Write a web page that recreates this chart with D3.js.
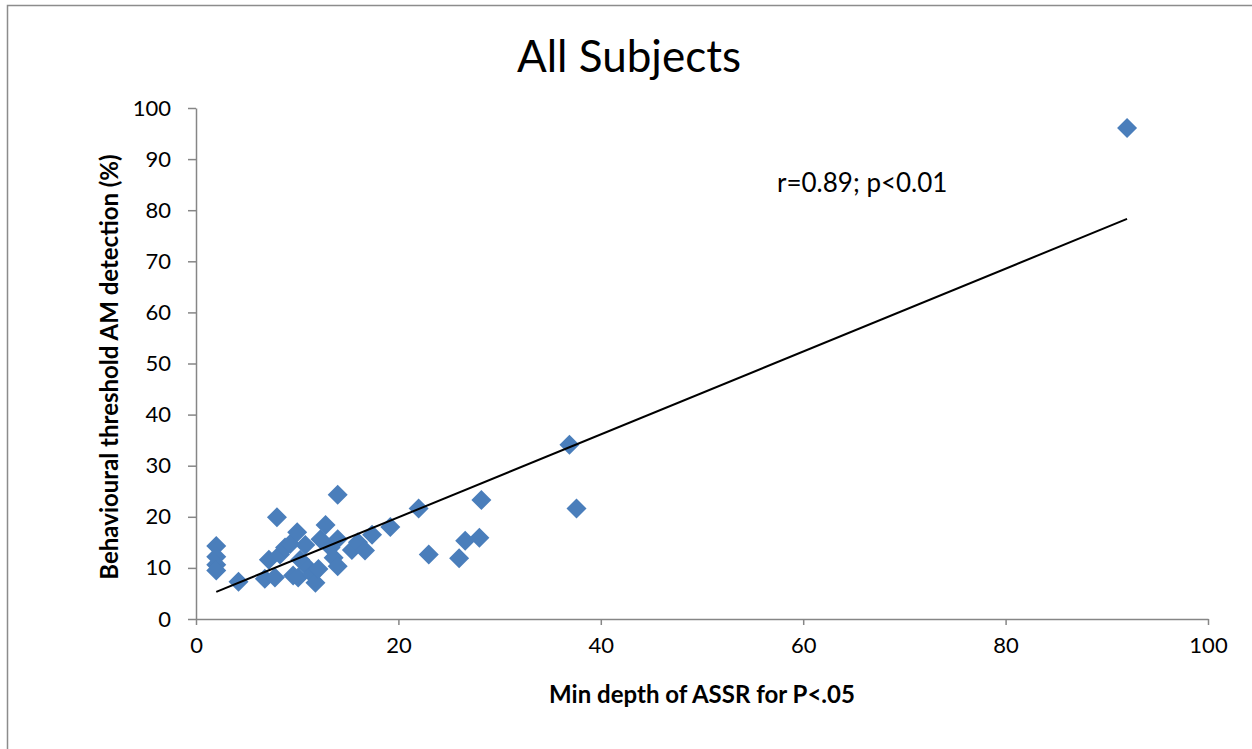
<!DOCTYPE html>
<html>
<head>
<meta charset="utf-8">
<script src="https://cdn.jsdelivr.net/npm/d3@7"></script>
<style>
  body { margin: 0; background: #fff; }
  svg text { font-family: Lato, "Open Sans", sans-serif; fill: #000; }
</style>
</head>
<body>
<svg id="canvas"></svg>
<script>
/***********************************************************************/
// Data

var xValues = [2, 2, 2, 2, 4.2, 8, 6.8, 7.2, 7.8, 8.3, 8.8, 9.3, 10, 9.6, 10.1, 10.3, 10.8, 11.1, 11.5, 11.8,
               12.1, 12.3, 12.8, 13.3, 13.6, 14, 14, 14, 15.4, 16, 16.7, 17.4, 19.2, 22, 23, 26, 26.6, 28, 28.2,
               36.9, 37.6, 92];
var yValues = [14.3, 12.2, 10.6, 9.5, 7.3, 19.9, 7.9, 11.6, 8.1, 12.6, 14, 14.7, 17, 8.5, 8.1, 11.6, 14.5, 10, 8.7, 7.1,
               9.8, 15.6, 18.4, 14, 12, 24.3, 15.6, 10.3, 13.5, 15, 13.4, 16.5, 18, 21.6, 12.6, 11.9, 15.3, 15.9, 23.3,
               34.1, 21.6, 96.1];

var trendX = [2, 92];
var trendY = [5.3, 78.3];

var xTicks = [0, 20, 40, 60, 80, 100];
var yTicks = [0, 10, 20, 30, 40, 50, 60, 70, 80, 90, 100];

var titleText = 'All Subjects';
var xLabel = 'Min depth of ASSR for P<.05';
var yLabel = 'Behavioural threshold AM detection (%)';
var noteText = 'r=0.89; p<0.01';

/***********************************************************************/
// Layout

var width = 1252, height = 749;
var plot = { left: 196, right: 1208, top: 108, bottom: 619 };
var pointColor = '#4a7ebb';

var svg = d3.select('#canvas').attr('width', width).attr('height', height);

svg.append('rect')
  .attr('x', 7.5).attr('y', 5.5)
  .attr('width', width + 20).attr('height', height + 20)
  .attr('fill', 'none').attr('stroke', '#8c8c8c').attr('stroke-width', 1.5);

var xScale = d3.scaleLinear().domain([0, 100]).range([plot.left, plot.right]);
var yScale = d3.scaleLinear().domain([0, 100]).range([plot.bottom, plot.top]);

/***********************************************************************/
// Axes

var xAxis = svg.append('g')
  .attr('transform', 'translate(0,' + plot.bottom + ')')
  .call(d3.axisBottom(xScale).tickValues(xTicks).tickSize(6).tickSizeOuter(0).tickPadding(12));

var yAxis = svg.append('g')
  .attr('transform', 'translate(' + plot.left + ',0)')
  .call(d3.axisLeft(yScale).tickValues(yTicks).tickSize(8).tickSizeOuter(0).tickPadding(17));

[xAxis, yAxis].forEach(ax => {
  ax.select('.domain').attr('stroke', '#868686').attr('stroke-width', 1.5);
  ax.selectAll('.tick line').attr('stroke', '#868686').attr('stroke-width', 1.5);
  ax.selectAll('.tick text').style('font-family', 'Lato, sans-serif').style('font-size', '22px').attr('fill', '#000');
});

/***********************************************************************/
// Points and trend

var diamond = d3.symbol().type(d3.symbolSquare).size(200);

svg.append('g').selectAll('path')
  .data(xValues.map((x, i) => [x, yValues[i]]))
  .enter().append('path')
  .attr('d', diamond)
  .attr('transform', d => 'translate(' + xScale(d[0]) + ',' + yScale(d[1]) + ') rotate(45)')
  .attr('fill', pointColor);

svg.append('path')
  .datum(trendX.map((x, i) => [x, trendY[i]]))
  .attr('d', d3.line().x(d => xScale(d[0])).y(d => yScale(d[1])))
  .attr('stroke', '#000').attr('stroke-width', 2).attr('fill', 'none');

/***********************************************************************/
// Texts

svg.append('text')
  .attr('x', 629).attr('y', 72)
  .attr('text-anchor', 'middle')
  .style('font-size', '44px')
  .text(titleText);

svg.append('text')
  .attr('x', 702).attr('y', 703)
  .attr('text-anchor', 'middle')
  .style('font-size', '24px').style('font-weight', 'bold')
  .text(xLabel);

svg.append('text')
  .attr('transform', 'translate(118,367) rotate(-90)')
  .attr('text-anchor', 'middle')
  .style('font-size', '24px').style('font-weight', 'bold')
  .text(yLabel);

svg.append('text')
  .attr('x', 777).attr('y', 192)
  .style('font-size', '26px')
  .text(noteText);
</script>
</body>
</html>
